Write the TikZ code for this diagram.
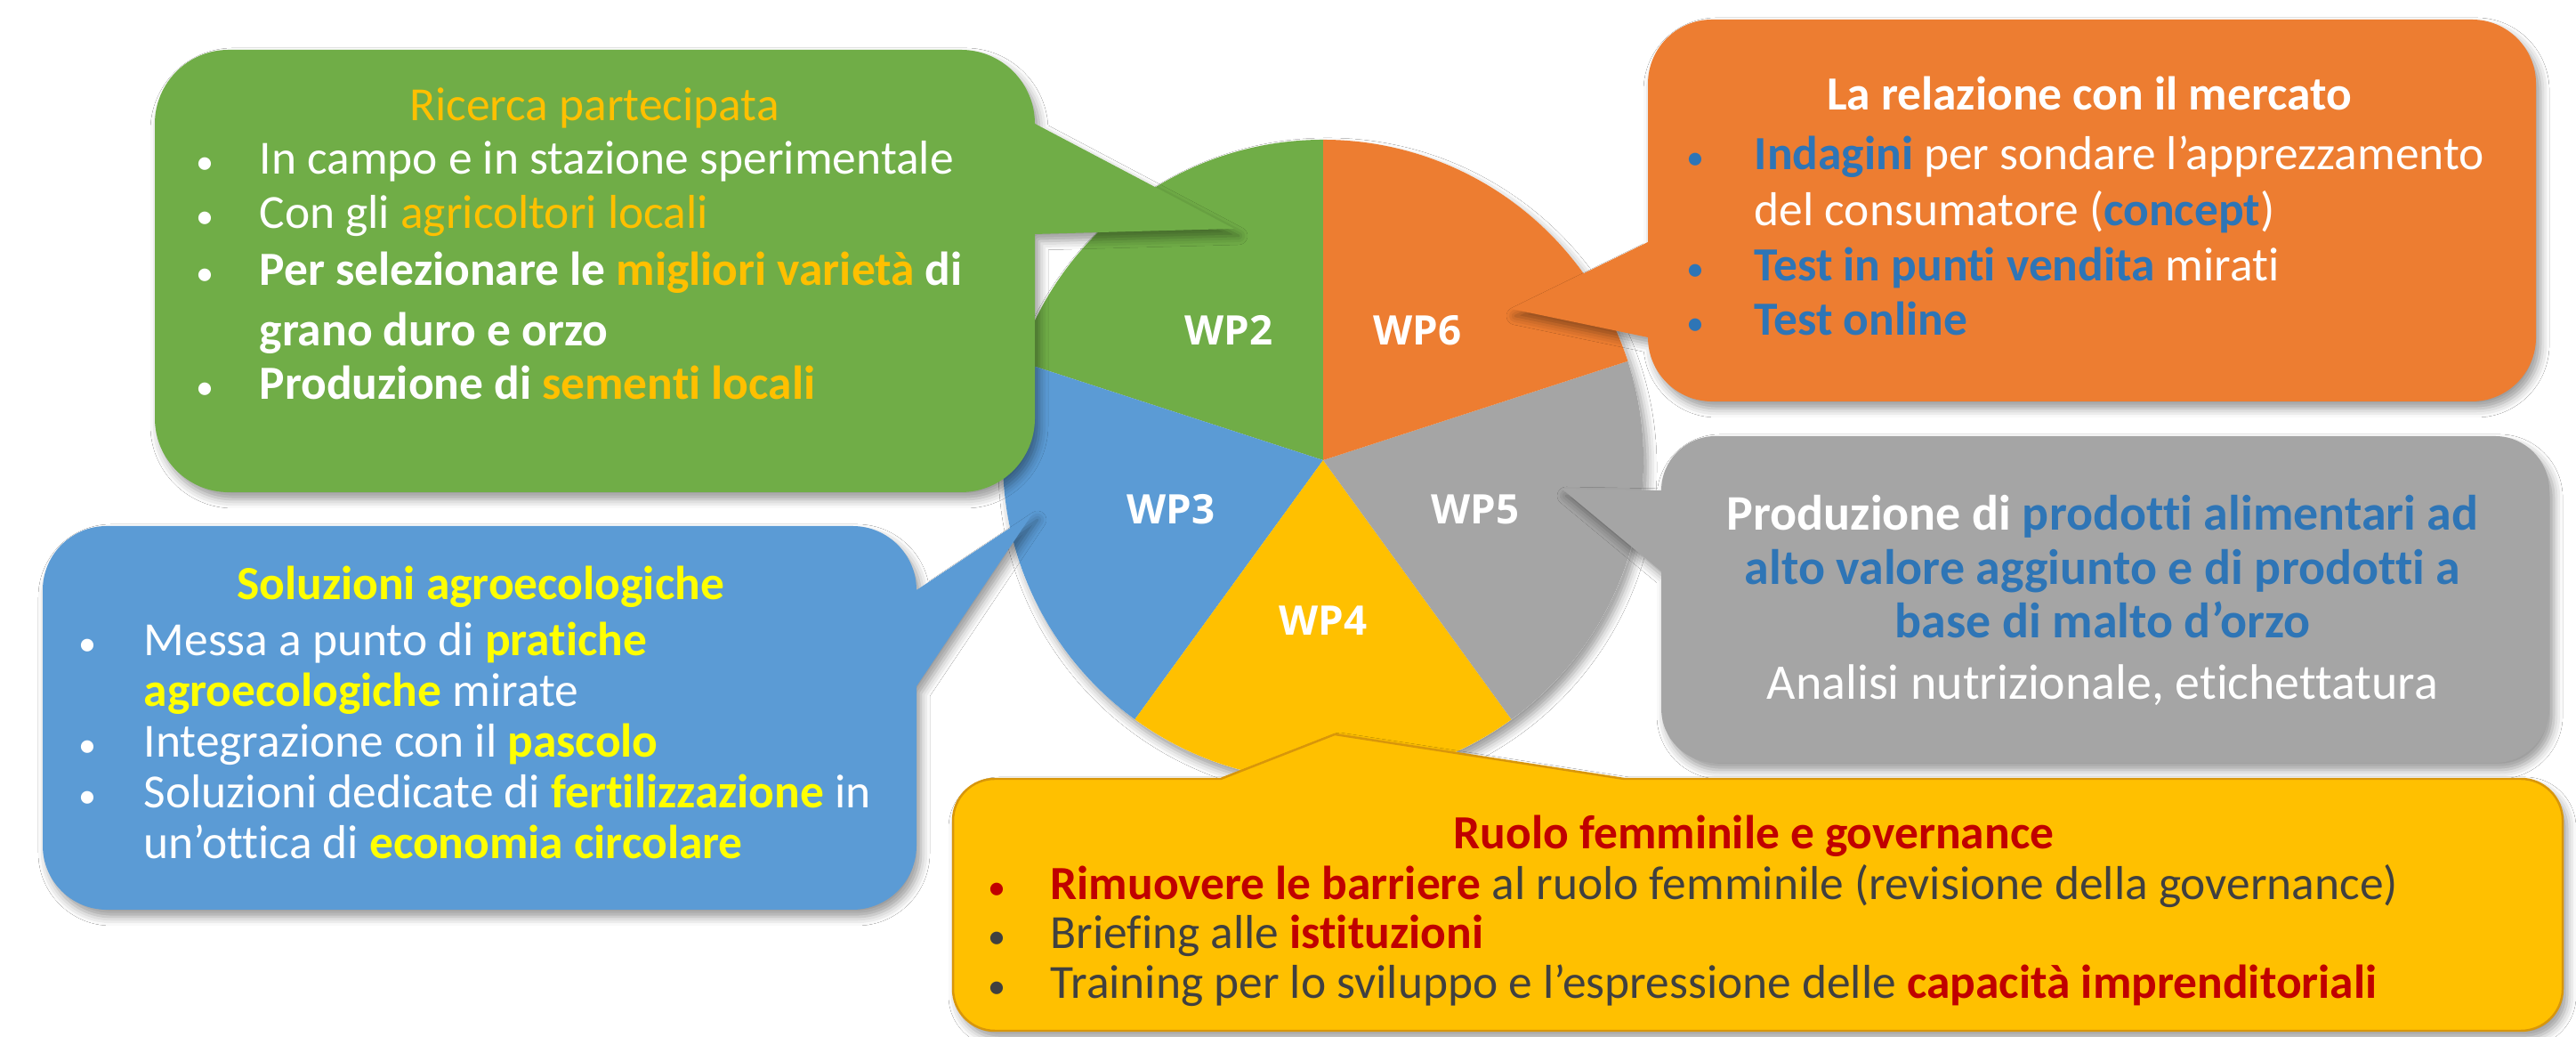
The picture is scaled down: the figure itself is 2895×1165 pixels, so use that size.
\documentclass[tikz,border=0pt]{standalone}
\usepackage{fontspec}
\setmainfont{Carlito}[Ligatures={TeX,NoCommon}]
\newfontfamily\wpfont{Open Sans}
\usetikzlibrary{shadows.blur}
\definecolor{cgreen}{HTML}{70AD47}
\definecolor{corange}{HTML}{ED7D31}
\definecolor{cgray}{HTML}{A5A5A5}
\definecolor{cybox}{HTML}{FFC000}
\definecolor{cbbox}{HTML}{5B9BD5}
\definecolor{cgold}{HTML}{FFC000}
\definecolor{ctblue}{HTML}{2E75B6}
\definecolor{cyel}{HTML}{FFFF00}
\definecolor{cred}{HTML}{C00000}
\definecolor{cdark}{HTML}{404040}
\definecolor{cedge}{HTML}{D8960A}
\newcommand{\bul}[2]{\llap{\makebox[#1][c]{\textcolor{#2}{\scalebox{0.75}{\textbullet}}}}}
\begin{document}
\begin{tikzpicture}[x=0.01cm, y=0.01cm,
  body/.style={inner sep=0pt, anchor=base west, font=\fontsize{15.2pt}{17.6pt}\selectfont, text=white},
  ctitle/.style={inner sep=0pt, anchor=base, font=\fontsize{15.2pt}{17.6pt}\selectfont},
  wp/.style={inner sep=0pt, text=white, font=\wpfont\bfseries\fontsize{13pt}{15pt}\selectfont},
  callshadow/.style={blur shadow={shadow xshift=0.05cm, shadow yshift=-0.08cm, shadow blur radius=0.1cm, shadow opacity=40}}
]
\useasboundingbox (0,0) rectangle (2895,1165);
\fill[white] (0,0) rectangle (2895,1165);

% pie
\coordinate (C) at (1487,648);
\fill[white, callshadow] (C) circle[radius=360];
\fill[cgreen]  (C) -- ++(90:360)  arc[start angle=90,  end angle=162, radius=360] -- cycle;
\fill[cbbox]   (C) -- ++(162:360) arc[start angle=162, end angle=234, radius=360] -- cycle;
\fill[cybox]   (C) -- ++(234:360) arc[start angle=234, end angle=306, radius=360] -- cycle;
\fill[cgray]   (C) -- ++(306:360) arc[start angle=306, end angle=378, radius=360] -- cycle;
\fill[corange] (C) -- ++(18:360)  arc[start angle=18,  end angle=90,  radius=360] -- cycle;

% callouts
\path[fill=cgreen, callshadow] (257,612) -- (1080,612) arc[start angle=-90,end angle=0,radius=83]
  -- (1163,902) -- (1387,908) -- (1163,1026) arc[start angle=0,end angle=90,radius=83]
  -- (257,1109) arc[start angle=90,end angle=180,radius=83]
  -- (174,695) arc[start angle=180,end angle=270,radius=83] -- cycle;

\path[fill=corange, callshadow] (1924,714) -- (2778,714) arc[start angle=-90,end angle=0,radius=72]
  -- (2850,1071) arc[start angle=0,end angle=90,radius=72]
  -- (1924,1143) arc[start angle=90,end angle=180,radius=72]
  -- (1852,893) -- (1698,818) -- (1852,786) arc[start angle=180,end angle=270,radius=72] -- cycle;

\path[fill=cgray, callshadow] (1928,308) -- (2804,308) arc[start angle=-90,end angle=0,radius=61]
  -- (2865,614) arc[start angle=0,end angle=90,radius=61]
  -- (1928,675) arc[start angle=90,end angle=180,radius=61]
  -- (1755,616) -- (1867,523) -- (1867,369) arc[start angle=180,end angle=270,radius=61] -- cycle;

\path[fill=cbbox, callshadow] (120,143) -- (958,143) arc[start angle=-90,end angle=0,radius=72]
  -- (1030,394) -- (1161,589) -- (1030,502) arc[start angle=0,end angle=90,radius=72]
  -- (120,574) arc[start angle=90,end angle=180,radius=72]
  -- (48,215) arc[start angle=180,end angle=270,radius=72] -- cycle;

\path[fill=cybox, draw=cedge, line width=0.7pt, callshadow] (1118,7) -- (2833,7) arc[start angle=-90,end angle=0,radius=47]
  -- (2880,243) arc[start angle=0,end angle=90,radius=47]
  -- (1825,290) -- (1500,340) -- (1372,290)
  -- (1118,290) arc[start angle=90,end angle=180,radius=47]
  -- (1071,54) arc[start angle=180,end angle=270,radius=47] -- cycle;

% WP labels
\node[wp] (wp2) at ([shift={(126:180)}]C) {WP2};
\node[wp] (wp6) at ([shift={(54:180)}]C) {WP6};
\node[wp] (wp3) at ([shift={(198:180)}]C) {WP3};
\node[wp] (wp5) at ([shift={(342:180)}]C) {WP5};
\node[wp] (wp4) at ([shift={(270:180)}]C) {WP4};

% green text
\node[ctitle, text=cgold] (gt) at (668,1029) {Ricerca partecipata};
\node[body] (g1) at (291,969) {\bul{1.22cm}{white}In campo e in stazione sperimentale};
\node[body] (g2) at (291,908) {\bul{1.22cm}{white}Con gli \textcolor{cgold}{agricoltori locali}};
\node[body] (g3) at (291,844) {\bul{1.22cm}{white}\bfseries Per selezionare le \textcolor{cgold}{migliori varietà} di};
\node[body] (g4) at (291,776) {\bfseries grano duro e orzo};
\node[body] (g5) at (291,716) {\bul{1.22cm}{white}\bfseries Produzione di \textcolor{cgold}{sementi locali}};

% orange text
\node[ctitle, text=white] (ot) at (2348,1041) {\bfseries La relazione con il mercato};
\node[body] (o1) at (1971,974) {\bul{1.32cm}{ctblue}\textcolor{ctblue}{\bfseries Indagini} per sondare l’apprezzamento};
\node[body] (o2) at (1971,911) {del consumatore (\textcolor{ctblue}{\bfseries concept})};
\node[body] (o3) at (1971,849) {\bul{1.32cm}{ctblue}\textcolor{ctblue}{\bfseries Test in punti vendita} mirati};
\node[body] (o4) at (1971,788) {\bul{1.32cm}{ctblue}\textcolor{ctblue}{\bfseries Test online}};

% gray text
\node[ctitle, text=white, font=\fontsize{15.9pt}{18pt}\selectfont] (r1) at (2363,569) {\bfseries Produzione di \textcolor{ctblue}{prodotti alimentari ad}};
\node[ctitle, text=ctblue, font=\fontsize{15.9pt}{18pt}\selectfont] (r2) at (2363,508) {\bfseries alto valore aggiunto e di prodotti a};
\node[ctitle, text=ctblue, font=\fontsize{15.9pt}{18pt}\selectfont] (r3) at (2363,448) {\bfseries base di malto d’orzo};
\node[ctitle, text=white, font=\fontsize{15.9pt}{18pt}\selectfont] (r4) at (2363,379) {Analisi nutrizionale, etichettatura};

% blue text
\node[ctitle, text=cyel] (bt) at (540,491) {\bfseries Soluzioni agroecologiche};
\node[body] (b1) at (161,428) {\bul{1.26cm}{white}Messa a punto di \textcolor{cyel}{\bfseries pratiche}};
\node[body] (b2) at (161,371) {\textcolor{cyel}{\bfseries agroecologiche} mirate};
\node[body] (b3) at (161,314) {\bul{1.26cm}{white}Integrazione con il \textcolor{cyel}{\bfseries pascolo}};
\node[body] (b4) at (161,257) {\bul{1.26cm}{white}Soluzioni dedicate di \textcolor{cyel}{\bfseries fertilizzazione} in};
\node[body] (b5) at (161,200) {un’ottica di \textcolor{cyel}{\bfseries economia circolare}};

% yellow text
\node[ctitle, text=cred] (yt) at (1971,211) {\bfseries Ruolo femminile e governance};
\node[body, text=cdark] (y1) at (1180,154) {\bul{1.2cm}{cred}\textcolor{cred}{\bfseries Rimuovere le barriere} al ruolo femminile (revisione della governance)};
\node[body, text=cdark] (y2) at (1180,99) {\bul{1.2cm}{cdark}Briefing alle \textcolor{cred}{\bfseries istituzioni}};
\node[body, text=cdark] (y3) at (1180,43) {\bul{1.2cm}{cdark}Training per lo sviluppo e l’espressione delle \textcolor{cred}{\bfseries capacità imprenditoriali}};
\end{tikzpicture}
\end{document}
